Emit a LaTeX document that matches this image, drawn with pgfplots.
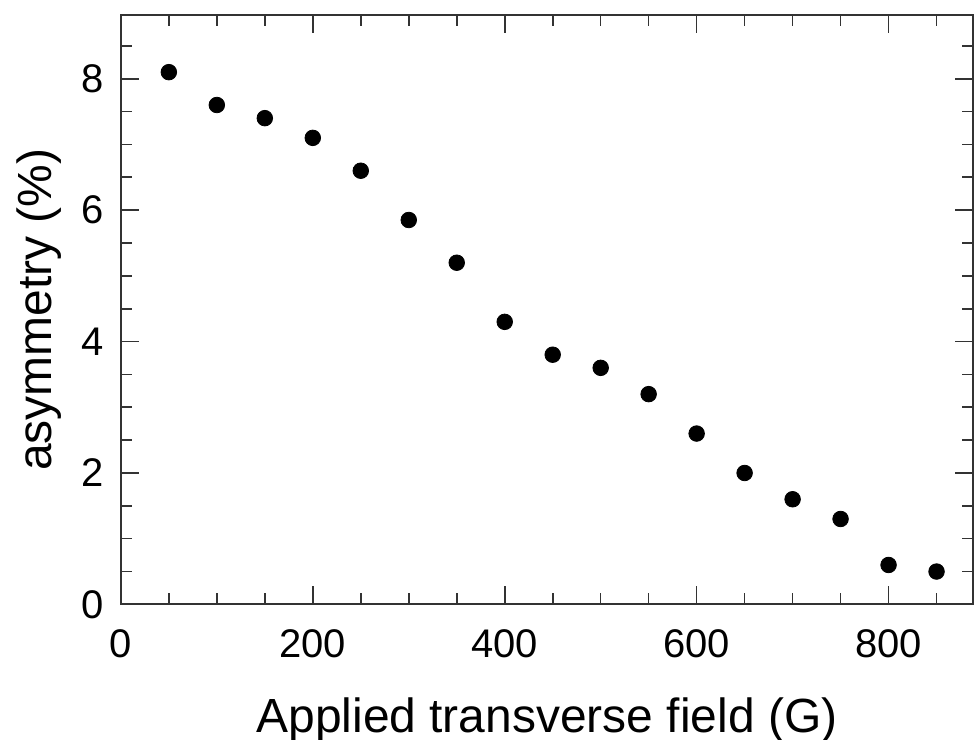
\documentclass[border=0pt]{standalone}
\usepackage{fontspec}
\setmainfont{Liberation Sans}
\usepackage{pgfplots}
\pgfplotsset{compat=1.18}
\begin{document}
\begin{tikzpicture}
\begin{axis}[
  scale only axis,
  width=426.5pt, height=295pt,
  xmin=0, xmax=888, ymin=0, ymax=8.97,
  xtick={0,200,400,600,800},
  minor xtick={50,100,150,250,300,350,450,500,550,650,700,750,850},
  ytick={0,2,4,6,8},
  minor ytick={0.5,1,1.5,2.5,3,3.5,4.5,5,5.5,6.5,7,7.5,8.5},
  tick align=inside,
  major tick length=9pt,
  minor tick length=5.5pt,
  axis line style={line width=0.9pt, black!80},
  every tick/.style={line width=0.8pt, black!80},
  /pgf/number format/assume math mode=true,
  ticklabel style={font=\fontsize{20}{23}\selectfont},
  xticklabel style={yshift=-9pt},
  yticklabel style={xshift=-5pt},
  xlabel={Applied transverse field (G)},
  ylabel={asymmetry (\%)},
  label style={font=\fontsize{24}{28}\selectfont},
  xlabel style={yshift=-13pt},
  ylabel style={yshift=3pt},
]
\addplot[only marks, mark=*, mark size=3.9pt, black] coordinates {
(50,8.1) (100,7.6) (150,7.4) (200,7.1) (250,6.6) (300,5.85) (350,5.2)
(400,4.3) (450,3.8) (500,3.6) (550,3.2) (600,2.6) (650,2.0) (700,1.6)
(750,1.3) (800,0.6) (850,0.5)
};
\end{axis}
\pgfresetboundingbox
\path (current axis.south west) ++(-60.5pt,-67.5pt) coordinate (bl);
\path (current axis.north east) ++(0.5pt,7.5pt) coordinate (tr);
\path[use as bounding box] (bl) rectangle (tr);
\end{tikzpicture}
\end{document}
